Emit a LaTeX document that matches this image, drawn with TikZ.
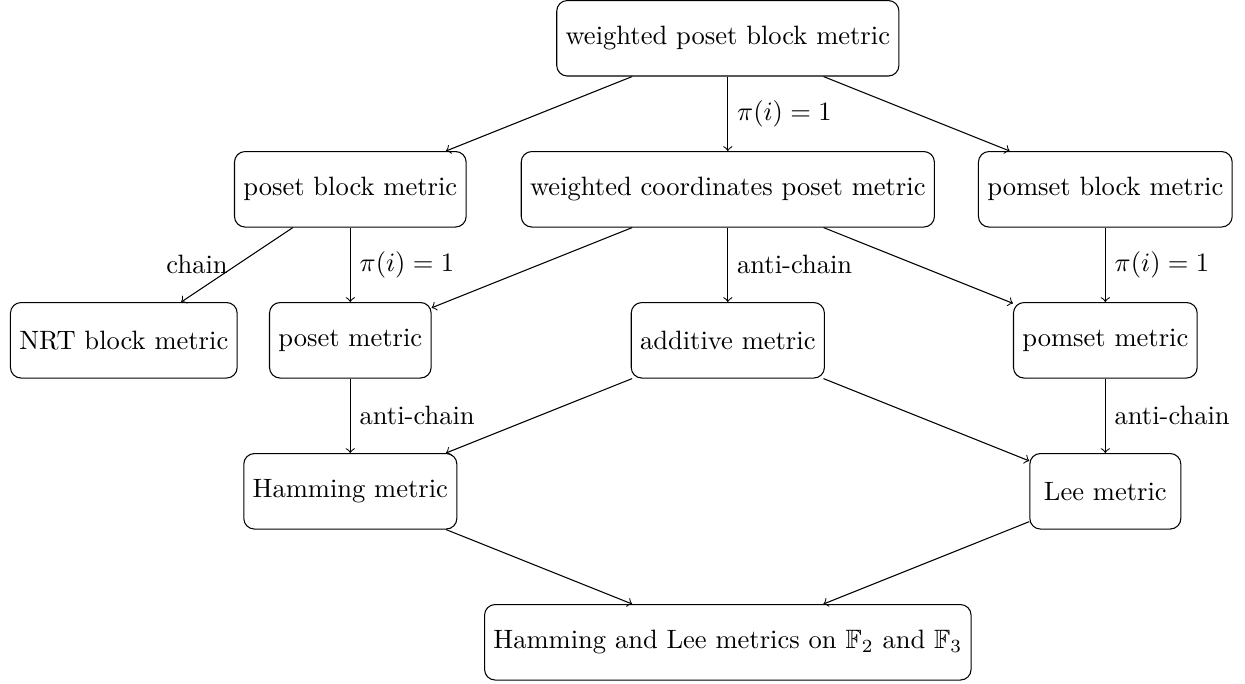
\documentclass[tikz,border=0pt]{standalone}
\usepackage{amssymb}
\begin{document}
\begin{tikzpicture}[
  box/.style={draw, rounded corners=4pt, minimum height=1cm, minimum width=2cm, align=center},
  arr/.style={->}
]
\useasboundingbox (-9.64,0.507) rectangle (6.85,-8.54);
\node[box] (wpbm) at (0,0) {weighted poset block metric};
\node[box] (pbm) at (-5,-2) {poset block metric};
\node[box] (wcpm) at (0,-2) {weighted coordinates poset metric};
\node[box] (pmbm) at (5,-2) {pomset block metric};
\node[box] (nrt) at (-8,-4) {NRT block metric};
\node[box] (pm) at (-5,-4) {poset metric};
\node[box] (am) at (0,-4) {additive metric};
\node[box] (pom) at (5,-4) {pomset metric};
\node[box] (ham) at (-5,-6) {Hamming metric};
\node[box] (lee) at (5,-6) {Lee metric};
\node[box] (hl) at (0,-8) {Hamming and Lee metrics on $\mathbb{F}_2$ and $\mathbb{F}_3$};

\draw[arr] (wpbm) -- (pbm);
\draw[arr] (wpbm) -- node[midway,right] {$\pi(i)=1$} (wcpm);
\draw[arr] (wpbm) -- (pmbm);
\draw[arr] (pbm) -- node[midway,left] {chain} (nrt);
\draw[arr] (pbm) -- node[midway,right] {$\pi(i)=1$} (pm);
\draw[arr] (wcpm) -- (pm);
\draw[arr] (wcpm) -- node[midway,right] {anti-chain} (am);
\draw[arr] (wcpm) -- (pom);
\draw[arr] (pmbm) -- node[midway,right] {$\pi(i)=1$} (pom);
\draw[arr] (pm) -- node[midway,right] {anti-chain} (ham);
\draw[arr] (am) -- (ham);
\draw[arr] (am) -- (lee);
\draw[arr] (pom) -- node[midway,right] {anti-chain} (lee);
\draw[arr] (ham) -- (hl);
\draw[arr] (lee) -- (hl);
\end{tikzpicture}
\end{document}
